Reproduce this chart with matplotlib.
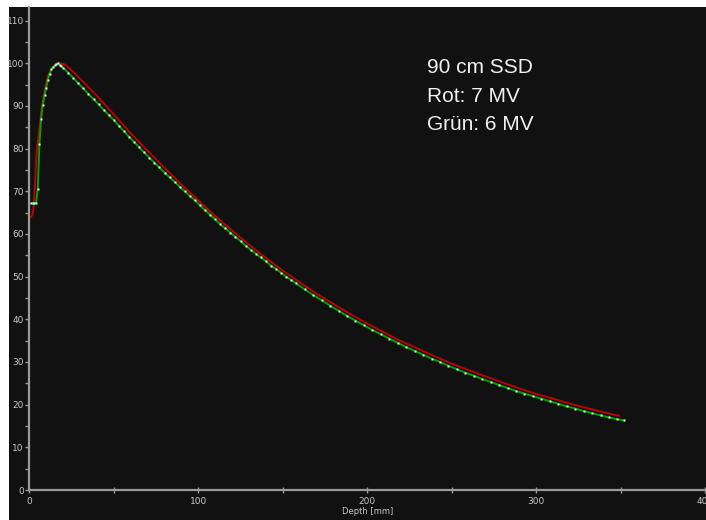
import matplotlib.pyplot as plt
from matplotlib.patches import Rectangle

# 6 MV (green, measured points) - depth [mm], dose [%]
depth_6mv = [1, 2, 3, 4, 5, 6, 7, 8, 9, 10, 11, 12, 13, 14, 15, 16, 17, 18, 19, 20,
             23, 26, 29, 32, 35, 38, 41, 44, 47, 50, 53, 56, 59, 62, 65, 68, 71, 74,
             77, 80, 83, 86, 89, 92, 95, 98, 101, 104, 107, 110, 113, 116, 119, 122,
             125, 128, 131, 134, 137, 140, 143, 146, 149, 152, 155, 158, 163, 168,
             173, 178, 183, 188, 193, 198, 203, 208, 213, 218, 223, 228, 233, 238,
             243, 248, 253, 258, 263, 268, 273, 278, 283, 288, 293, 298, 303, 308,
             313, 318, 323, 328, 333, 338, 343, 348, 352]
dose_6mv = [67.2, 67.2, 67.2, 67.2, 70.6, 81.0, 87.0, 90.3, 92.5, 94.3, 96.2, 97.6,
            98.6, 99.1, 99.5, 99.9, 100.0, 99.5, 99.3, 99.0,
            97.8, 96.6, 95.3, 94.1, 92.8, 91.6, 90.4, 89.1, 87.9, 86.7, 85.4, 84.1,
            82.8, 81.6, 80.3, 79.1, 77.9, 76.7, 75.6, 74.4, 73.3, 72.2, 71.1, 70.0,
            68.9, 67.9, 66.7, 65.6, 64.5, 63.4, 62.3, 61.3, 60.3, 59.3, 58.3, 57.3,
            56.3, 55.4, 54.5, 53.6, 52.6, 51.8, 50.9, 50.0, 49.2, 48.4, 47.0, 45.7,
            44.5, 43.2, 42.0, 40.8, 39.7, 38.6, 37.5, 36.5, 35.5, 34.5, 33.5, 32.6,
            31.7, 30.8, 30.0, 29.1, 28.3, 27.5, 26.8, 26.0, 25.3, 24.6, 23.9, 23.2,
            22.6, 22.0, 21.4, 20.8, 20.2, 19.6, 19.1, 18.5, 18.0, 17.5, 17.0, 16.6,
            16.3]

# 7 MV (red line)
depth_7mv = [0.4, 1.8, 2.5, 3.4, 4.4, 5.7, 7.3, 9.3, 11.2, 13.3, 16.2, 18.2, 21.1,
             24, 27, 30, 33, 36, 39, 42, 45, 50, 60, 70, 80, 90, 100, 110, 120, 130,
             140, 150, 160, 170, 180, 190, 200, 210, 220, 230, 240, 250, 260, 270,
             280, 290, 300, 310, 320, 330, 340, 349]
dose_7mv = [63.8, 64.4, 66.0, 72.2, 79.2, 83.9, 89.4, 94.1, 97.2, 98.7, 99.9, 100.0,
            99.7, 98.7, 97.6, 96.4, 95.2, 94.0, 92.8, 91.5, 90.2, 88.0, 83.6, 79.5,
            75.5, 71.6, 67.9, 64.2, 60.8, 57.5, 54.4, 51.4, 48.7, 46.0, 43.6, 41.2,
            39.0, 36.9, 34.9, 33.1, 31.3, 29.6, 28.1, 26.6, 25.2, 23.8, 22.5, 21.4,
            20.2, 19.2, 18.2, 17.4]

info_lines = ["90 cm SSD", "Rot: 7 MV", "Grün: 6 MV"]

fig = plt.figure(figsize=(7.06, 5.20), dpi=100, facecolor='white')
# dark panel behind the plot
fig.patches.append(Rectangle((9 / 706, 0), 1, 1 - 7 / 520, transform=fig.transFigure,
                             facecolor='#111111', edgecolor='none', zorder=-1))

ax = fig.add_axes([29.3 / 706, 30 / 520, 676.7 / 706, 483 / 520])
ax.set_facecolor('#111111')

ax.plot(depth_7mv, dose_7mv, color='#b80000', lw=1.4, zorder=2)
ax.plot(depth_6mv, dose_6mv, color='#00a000', lw=1.4, zorder=3,
        marker='s', markersize=1.8, markerfacecolor='#e8f4e8', markeredgecolor='none')

ax.set_xlim(0, 400.4)
ax.set_ylim(0, 113.2)
ax.set_xticks([0, 100, 200, 300, 400])
ax.set_xticks([50, 150, 250, 350], minor=True)
ax.set_yticks(range(0, 111, 10))
ax.set_yticks(range(5, 110, 10), minor=True)

for s in ['top', 'right']:
    ax.spines[s].set_visible(False)
for s in ['left', 'bottom']:
    ax.spines[s].set_color('#9a9a9a')
    ax.spines[s].set_linewidth(1.6)

ax.tick_params(axis='y', which='both', direction='out', length=3, width=1,
               color='#9a9a9a', labelcolor='#c8c8c8', labelsize=6.5, pad=1)
ax.tick_params(axis='x', which='both', direction='inout', length=4, width=1,
               color='#9a9a9a', labelcolor='#c8c8c8', labelsize=6.5, pad=3)

ax.set_xlabel("Depth [mm]", color='#c8c8c8', fontsize=6, labelpad=1)

baselines = [73, 102, 130]
for line, yb in zip(info_lines, baselines):
    fig.text(427 / 706, 1 - yb / 520, line, color='#f0f0f0', fontsize=15,
             family='Liberation Sans', va='baseline', ha='left')

fig.savefig('out.png', dpi=100, facecolor=fig.get_facecolor())
